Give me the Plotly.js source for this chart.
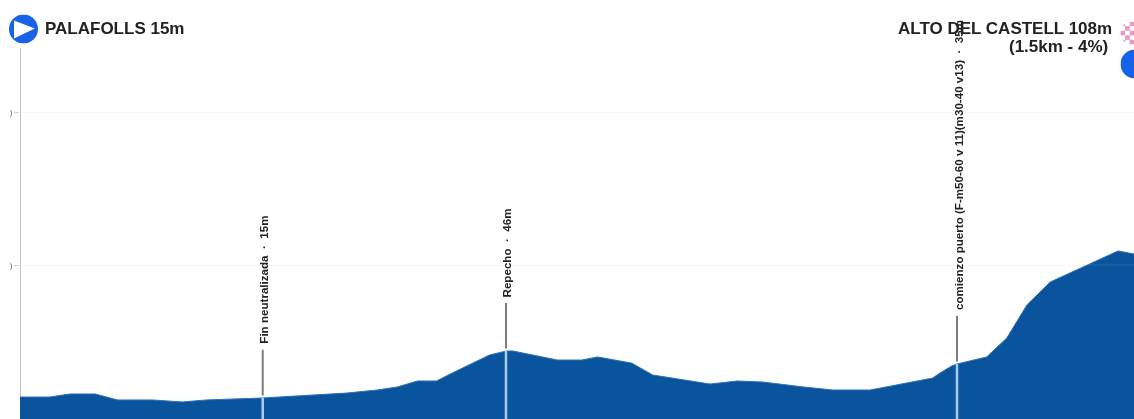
<!DOCTYPE html>
<html>
<head>
<meta charset="utf-8">
<script src="https://cdn.plot.ly/plotly-3.0.1.min.js"></script>
<style>
html,body{margin:0;padding:0;background:#fff;overflow:hidden}
#chart{width:1134px;height:419px;filter:blur(0.55px)}
</style>
</head>
<body>
<div id="chart"></div>
<script>
// Profile: distance (km) and elevation (m)
const distanceKm = [0,0.28,0.47,0.71,0.92,1.25,1.53,1.76,2.29,3.08,3.37,3.56,3.75,3.93,4.06,4.43,4.59,4.65,5.07,5.30,5.45,5.77,5.97,6.51,6.77,7.01,7.39,7.67,8.02,8.61,8.68,8.79,8.84,9.12,9.31,9.50,9.72,10.12,10.36,10.51];
const elevationM = [13.7,13.7,15.7,15.7,11.8,11.8,10.5,11.8,13.1,16.3,18.3,20.3,24.2,24.2,28.8,41.2,43.8,43.8,37.9,37.9,39.9,35.9,28.1,22.2,24.2,23.5,20.3,18.3,18.3,26.1,29.4,34,35.3,39.9,52.3,73.9,88.9,101.3,109.2,107.2];

// Waypoints along the route
const waypointKm = [2.29,4.585,8.84];
const waypointElev = [13.1,43.8,35.3];
const waypointLabels = ["Fin neutralizada  ·  15m","Repecho  ·  46m","comienzo puerto (F-m50-60 v 11)(m30-40 v13)  ·  35m"];

const yTicks = [100,200];
const yTickText = [")",")"];
const startLabel = "PALAFOLLS 15m";
const endLabel = "ALTO DEL CASTELL 108m";
const endSubLabel = "(1.5km - 4%)";

const W=1134,H=419,LEFT=20;
const xMax=10.51, yMin=-0.65, yMax=273.2;
const BLUE="#0A549E";
const FONT="Liberation Sans, Arial, sans-serif";

const traces=[];
// left axis line, behind the area
traces.push({x:[0,0],y:[yMin,242],mode:"lines",line:{color:"#c4c4c4",width:2},hoverinfo:"skip",showlegend:false,cliponaxis:false});
// floor + area
traces.push({x:[0,xMax],y:[yMin-2,yMin-2],mode:"lines",line:{width:0},hoverinfo:"skip",showlegend:false});
traces.push({x:distanceKm,y:elevationM,mode:"lines",fill:"tonexty",fillcolor:BLUE,line:{color:"#2f6fb3",width:1},hoverinfo:"skip",showlegend:false});
waypointKm.forEach((k,i)=>{
  const e=waypointElev[i];
  traces.push({x:[k,k],y:[yMin,e],mode:"lines",line:{color:"#a8cbf0",width:2.5},hoverinfo:"skip",showlegend:false});
  traces.push({x:[k,k],y:[e+1.6,e+31.5],mode:"lines",line:{color:"#7d7d7d",width:2},hoverinfo:"skip",showlegend:false});
});

const annotations=waypointLabels.map((t,i)=>({
  x:waypointKm[i],y:waypointElev[i],xref:"x",yref:"y",text:t,showarrow:false,textangle:-90,
  xanchor:"center",yanchor:"bottom",yshift:52,xshift:1,
  font:{family:FONT,size:11.6,color:"#222"}
}));
const px=v=>(v-LEFT)/(W-LEFT), py=v=>1-v/H;
annotations.push({x:px(44),y:py(28),xref:"paper",yref:"paper",text:startLabel,showarrow:false,xanchor:"left",yanchor:"middle",xshift:-1,
  font:{family:FONT,size:17,color:"#222"}});
annotations.push({x:px(1113),y:py(28),xref:"paper",yref:"paper",text:endLabel,showarrow:false,xanchor:"right",yanchor:"middle",xshift:1,
  font:{family:FONT,size:17,color:"#222"}});
annotations.push({x:px(1109),y:py(46),xref:"paper",yref:"paper",text:endSubLabel,showarrow:false,xanchor:"right",yanchor:"middle",xshift:1,
  font:{family:FONT,size:17,color:"#222"}});
annotations.forEach(a=>{a.text="<b>"+a.text+"</b>";});

const svgUri=s=>"data:image/svg+xml;utf8,"+encodeURIComponent(s);
const startIcon=svgUri('<svg xmlns="http://www.w3.org/2000/svg" width="64" height="64"><circle cx="32" cy="32" r="32" fill="#1663e8"/><path d="M11 13 L57 31 L11 53 Z" fill="#fff"/></svg>');
let squares="";
for(let r=0;r<5;r++)for(let c=0;c<5;c++) if((r+c)%2===0) squares+=`<rect x="${c*12.8}" y="${r*12.8}" width="12.8" height="12.8" fill="#e79ac4"/>`;
const checkIcon=svgUri(`<svg xmlns="http://www.w3.org/2000/svg" width="64" height="64"><defs><clipPath id="c"><circle cx="32" cy="32" r="32"/></clipPath></defs><g clip-path="url(#c)">${squares}</g></svg>`);
const endIcon=svgUri('<svg xmlns="http://www.w3.org/2000/svg" width="64" height="64"><circle cx="32" cy="32" r="32" fill="#1663e8"/></svg>');
const img=(src,cx,cy,r)=>({source:src,xref:"paper",yref:"paper",x:px(cx-r),y:1-(cy-r)/H,sizex:2*r/(W-LEFT),sizey:2*r/H,xanchor:"left",yanchor:"top",sizing:"stretch",layer:"above"});

const layout={
  width:W,height:H,margin:{l:LEFT,r:0,t:0,b:0},paper_bgcolor:"#fff",plot_bgcolor:"#fff",showlegend:false,
  xaxis:{range:[0,xMax],visible:false,fixedrange:true},
  yaxis:{range:[yMin,yMax],tickmode:"array",tickvals:yTicks,ticktext:yTickText,ticks:"outside",ticklen:5,tickcolor:"#cfcfcf",tickwidth:1,
    tickfont:{family:FONT,size:8,color:"#666"},
    showgrid:true,gridcolor:"#f6f6f6",gridwidth:1,zeroline:false,showline:false,fixedrange:true},
  shapes:yTicks.map(v=>({type:"line",xref:"paper",x0:0,x1:1,yref:"y",y0:v,y1:v,line:{color:"rgba(255,255,255,0.12)",width:1},layer:"above"})),
  annotations,
  images:[img(startIcon,23.5,29,14.5),img(checkIcon,1132,33,11.5),img(endIcon,1135,64,14.5)]
};
Plotly.newPlot("chart",traces,layout,{displayModeBar:false,staticPlot:true});
</script>
</body>
</html>
